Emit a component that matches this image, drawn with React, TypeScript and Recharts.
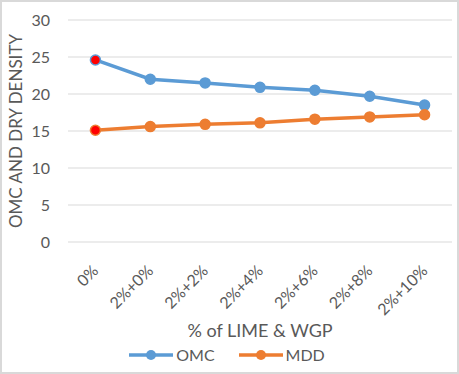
import React from 'react';
import { LineChart, Line, XAxis, YAxis, CartesianGrid, Legend } from 'recharts';

const categories = ['0%', '2%+0%', '2%+2%', '2%+4%', '2%+6%', '2%+8%', '2%+10%'];
const omc = [24.6, 22.0, 21.5, 20.9, 20.5, 19.7, 18.5];
const mdd = [15.1, 15.6, 15.9, 16.1, 16.6, 16.9, 17.2];
const yTicks = [0, 5, 10, 15, 20, 25, 30];

const data = categories.map((c, i) => ({ name: c, OMC: omc[i], MDD: mdd[i] }));

const FONT = 'Lato, "Open Sans", sans-serif';
const TXT = '#595959';
const BLUE = '#5b9bd5';
const ORANGE = '#ed7d31';

const XTick = (props: any) => {
  const { x, y, payload } = props;
  return (
    <g transform={`translate(${x},${y + 18})`}>
      <text
        transform="rotate(-45)"
        textAnchor="end"
        fill={TXT}
        fontSize={16}
        fontFamily={FONT}
        dy="0.35em"
      >
        {payload.value}
      </text>
    </g>
  );
};

const makeDot = (color: string) => (props: any) => {
  const { cx, cy, index } = props;
  if (cx == null || cy == null) return <g key={index} />;
  return (
    <circle
      key={index}
      cx={cx}
      cy={cy}
      r={5}
      fill={index === 0 ? '#ff0000' : color}
      stroke={color}
      strokeWidth={1.5}
    />
  );
};

const LegendContent = () => {
  const items = [
    { label: 'OMC', color: BLUE },
    { label: 'MDD', color: ORANGE },
  ];
  return (
    <div style={{ display: 'flex', justifyContent: 'center', gap: 24, fontFamily: FONT, fontSize: 16, color: TXT }}>
      {items.map((it) => (
        <div key={it.label} style={{ display: 'flex', alignItems: 'center' }}>
          <svg width={44} height={14} style={{ marginRight: 3 }}>
            <line x1={0} y1={7} x2={44} y2={7} stroke={it.color} strokeWidth={3.5} />
            <circle cx={22} cy={7} r={5} fill={it.color} />
          </svg>
          <span>{it.label}</span>
        </div>
      ))}
    </div>
  );
};

export default function App() {
  return (
    <div
      style={{
        position: 'absolute',
        left: 0,
        top: 0,
        width: 459,
        height: 374,
        boxSizing: 'border-box',
        border: '2px solid #d9d9d9',
        background: '#fff',
        overflow: 'hidden',
      }}
    >
      <LineChart
        width={455}
        height={370}
        data={data}
        margin={{ top: 18, right: 5, bottom: 8, left: 0 }}
      >
        <CartesianGrid vertical={false} stroke="#d9d9d9" strokeWidth={1} />
        <XAxis
          dataKey="name"
          scale="band"
          axisLine={false}
          tickLine={false}
          tick={<XTick />}
          interval={0}
          height={103}
          label={{ value: '% of LIME & WGP', position: 'insideBottom', offset: 8, fill: TXT, fontSize: 18, fontFamily: FONT }}
        />
        <YAxis
          domain={[0, 30]}
          ticks={yTicks}
          axisLine={false}
          tickLine={false}
          width={66}
          tick={{ fill: TXT, fontSize: 16, fontFamily: FONT }}
          tickMargin={12}
          label={{ value: 'OMC AND DRY DENSITY', angle: -90, position: 'insideLeft', offset: 14, fill: TXT, fontSize: 17, fontFamily: FONT, style: { textAnchor: 'middle' } }}
        />
        <Legend verticalAlign="bottom" content={<LegendContent />} />
        <Line
          type="linear"
          dataKey="OMC"
          stroke={BLUE}
          strokeWidth={3.5}
          dot={makeDot(BLUE)}
          activeDot={false}
          isAnimationActive={false}
        />
        <Line
          type="linear"
          dataKey="MDD"
          stroke={ORANGE}
          strokeWidth={3.5}
          dot={makeDot(ORANGE)}
          activeDot={false}
          isAnimationActive={false}
        />
      </LineChart>
    </div>
  );
}
